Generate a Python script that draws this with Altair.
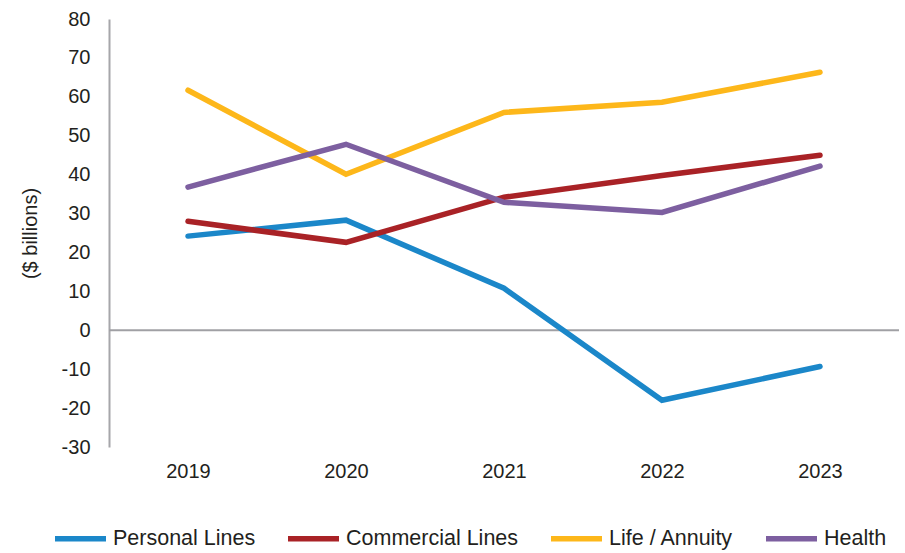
import altair as alt
import pandas as pd

years = ["2019", "2020", "2021", "2022", "2023"]
series_names = ["Personal Lines", "Commercial Lines", "Life / Annuity", "Health"]
personal = [24.2, 28.3, 10.8, -18.0, -9.3]
commercial = [28.0, 22.6, 34.2, 39.8, 45.0]
life = [61.7, 40.1, 56.0, 58.6, 66.3]
health = [36.8, 47.8, 32.9, 30.3, 42.2]
colors = ["#1B87C9", "#A92226", "#FDB71A", "#7D5FA0"]
y_ticks = [80, 70, 60, 50, 40, 30, 20, 10, 0, -10, -20, -30]

rows = []
for name, vals in zip(series_names, [personal, commercial, life, health]):
    for yr, v in zip(years, vals):
        rows.append({"Year": yr, "Segment": name, "Value": v})
df = pd.DataFrame(rows)

FONT = "Liberation Sans"
yscale = alt.Scale(domain=[-30, 80], nice=False, zero=False)
yaxis = alt.Axis(title="($ billions)", values=y_ticks, grid=False, ticks=False,
                 labelOverlap=False, labelFlush=False, labelBound=False,
                 labelExpr="toString(datum.value)",
                 domainColor="#A6A6AA", domainWidth=2, labelPadding=19,
                 labelFontSize=20, labelColor="#231F20", labelFont=FONT,
                 titleFont=FONT, titleFontSize=20, titleFontWeight="normal",
                 titleColor="#231F20", titlePadding=21)

lines = alt.Chart(df).mark_line(strokeWidth=5.5, strokeCap="round").encode(
    x=alt.X("Year:O", sort=years,
            axis=alt.Axis(title=None, labelAngle=0, domain=False, ticks=False,
                          labelPadding=14, labelFontSize=20, labelColor="#231F20",
                          labelFont=FONT)),
    y=alt.Y("Value:Q", scale=yscale, axis=yaxis),
    color=alt.Color("Segment:N", sort=series_names,
                    scale=alt.Scale(domain=series_names, range=colors),
                    legend=alt.Legend(title=None, orient="none", direction="horizontal",
                                      legendX=-57, legendY=491,
                                      symbolType="stroke", symbolSize=2601,
                                      symbolStrokeWidth=5.5, labelFontSize=21.5,
                                      labelFont=FONT, labelColor="#231F20",
                                      labelOffset=4, columnPadding=21, padding=0,
                                      labelLimit=300)),
    order=alt.Order("Year:O"),
)

zero_rule = alt.Chart(pd.DataFrame({"Value": [0]})).mark_rule(color="#A0A0A4", strokeWidth=2).encode(
    y=alt.Y("Value:Q", scale=yscale, axis=yaxis)
)

chart = alt.layer(zero_rule, lines).properties(
    width=790, height=428,
    autosize=alt.AutoSizeParams(type="none"),
    padding={"left": 109, "top": 19, "right": 6, "bottom": 106},
).configure_view(stroke=None)

chart.save("out.html", embed_options={"renderer": "svg", "actions": False})
